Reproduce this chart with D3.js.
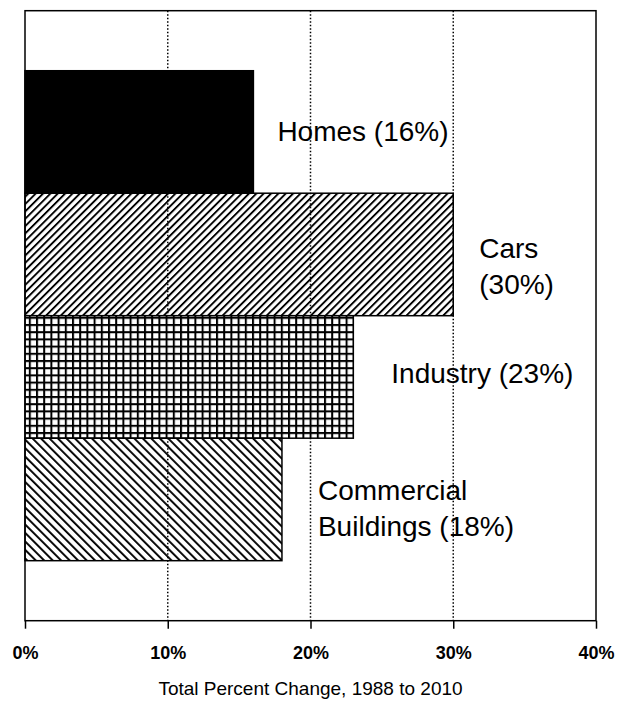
<!DOCTYPE html>
<html>
<head>
<meta charset="utf-8">
<script src="https://cdn.jsdelivr.net/npm/d3@7"></script>
<style>
  body { margin: 0; background: #fff; }
  text { font-family: "Liberation Sans", Arial, Helvetica, sans-serif; fill: #000; }
</style>
</head>
<body>
<div id="chart"></div>
<script>
// data
const categories = ["Homes", "Cars", "Industry", "Commercial Buildings"];
const values = [16, 30, 23, 18];
const labelLines = [["Homes (16%)"], ["Cars", "(30%)"], ["Industry (23%)"], ["Commercial", "Buildings (18%)"]];
const fills = ["solid", "fwd", "grid", "back"];
const tickValues = [0, 10, 20, 30, 40];
const axisTitle = "Total Percent Change, 1988 to 2010";

const width = 629, height = 701;
const margin = { top: 10.7, right: 33, bottom: 80.3, left: 25 };

// label placement (gap after bar end, vertical shift from band centre)
const labelGap = [24, 26, 38, 36];
const labelShift = [9, 22, 6, 19];
const lineStep = 36;

const svg = d3.select("#chart").append("svg")
    .attr("width", width)
    .attr("height", height);

const defs = svg.append("defs");

defs.append("pattern")
    .attr("id", "fwd")
    .attr("patternUnits", "userSpaceOnUse")
    .attr("width", 5.2).attr("height", 5.2)
    .attr("patternTransform", "rotate(45)")
    .append("rect")
    .attr("x", 0).attr("y", 0).attr("width", 1.9).attr("height", 5.2)
    .attr("fill", "#000");

defs.append("pattern")
    .attr("id", "back")
    .attr("patternUnits", "userSpaceOnUse")
    .attr("width", 6).attr("height", 6)
    .attr("patternTransform", "rotate(-45)")
    .append("rect")
    .attr("x", 0).attr("y", 0).attr("width", 1.9).attr("height", 6)
    .attr("fill", "#000");

let grid = defs.append("pattern")
    .attr("id", "grid")
    .attr("patternUnits", "userSpaceOnUse")
    .attr("width", 7.2).attr("height", 7.2);
grid.append("rect").attr("width", 7.2).attr("height", 7.2).attr("fill", "#fff");
grid.append("path")
    .attr("d", "M1,0V7.2M0,1H7.2")
    .attr("stroke", "#000").attr("stroke-width", 2);

const x = d3.scaleLinear()
    .domain([0, 40])
    .range([margin.left, width - margin.right]);

const y = d3.scaleBand()
    .domain(categories)
    .range([margin.top, height - margin.bottom])
    .paddingInner(0)
    .paddingOuter(0.49);

const bottom = height - margin.bottom;

// dotted grid lines
svg.append("g").selectAll("line")
    .data(tickValues.slice(1, -1))
    .join("line")
    .attr("x1", d => x(d)).attr("x2", d => x(d))
    .attr("y1", margin.top).attr("y2", bottom)
    .attr("stroke", "#000")
    .attr("stroke-width", 1.5)
    .attr("stroke-dasharray", "1.5,2");

// bars
svg.append("g").selectAll("rect")
    .data(categories)
    .join("rect")
    .attr("x", x(0))
    .attr("y", d => y(d))
    .attr("width", (d, i) => x(values[i]) - x(0))
    .attr("height", y.bandwidth())
    .attr("fill", (d, i) => fills[i] === "solid" ? "#000" : "url(#" + fills[i] + ")")
    .attr("stroke", "#000")
    .attr("stroke-width", 1.5);

// frame
svg.append("rect")
    .attr("x", x(0)).attr("y", margin.top)
    .attr("width", x(40) - x(0))
    .attr("height", bottom - margin.top)
    .attr("fill", "none")
    .attr("stroke", "#000")
    .attr("stroke-width", 1.5);

// x axis
const xAxis = d3.axisBottom(x)
    .tickValues(tickValues)
    .tickSize(8)
    .tickPadding(16)
    .tickFormat(d => d + "%");

const axisG = svg.append("g")
    .attr("transform", "translate(0," + bottom + ")")
    .call(xAxis)
    .attr("font-size", null)
    .attr("font-family", null);
axisG.select(".domain").remove();
axisG.selectAll(".tick line").attr("stroke", "#000").attr("stroke-width", 1.5);
axisG.selectAll(".tick text")
    .attr("dy", null)
    .attr("y", 38)
    .style("font-size", "18px")
    .style("font-weight", "bold")
    .attr("fill", "#000");

svg.append("text")
    .attr("x", (x(0) + x(40)) / 2)
    .attr("y", 695)
    .attr("text-anchor", "middle")
    .style("font-size", "19px")
    .text(axisTitle);

// bar labels
svg.append("g").selectAll("text")
    .data(categories)
    .join("text")
    .style("font-size", "28px")
    .each(function (d, i) {
        let n = labelLines[i].length;
        let cy = y(d) + y.bandwidth() / 2 + labelShift[i];
        d3.select(this).selectAll("tspan")
            .data(labelLines[i])
            .join("tspan")
            .attr("x", x(values[i]) + labelGap[i])
            .attr("y", (s, j) => cy - (n - 1) * lineStep / 2 + j * lineStep)
            .text(s => s);
    });
</script>
</body>
</html>
